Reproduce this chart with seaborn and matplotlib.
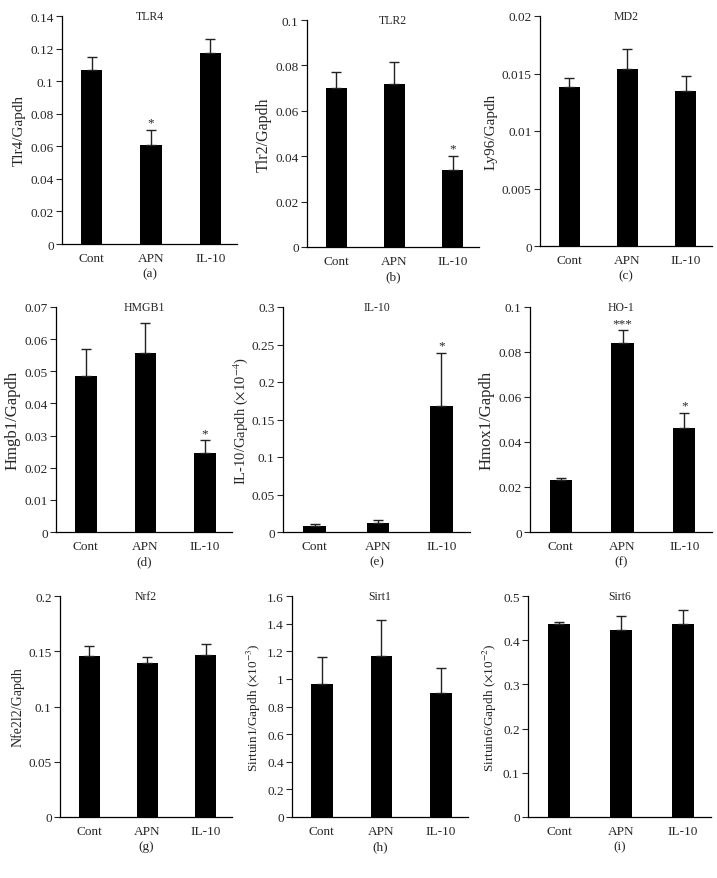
import numpy as np
import pandas as pd
import matplotlib
matplotlib.use("Agg")
import matplotlib.pyplot as plt
import seaborn as sns
from matplotlib.ticker import FuncFormatter

sns.set_style("ticks")
plt.rcParams['font.family'] = ['Liberation Serif', 'DejaVu Serif']
plt.rcParams['mathtext.fontset'] = 'stix'

groups = ['Cont', 'APN', 'IL-10']

# mean values and upper SEM
tlr4 = [0.107, 0.061, 0.117]
tlr4_err = [0.008, 0.009, 0.009]
tlr2 = [0.070, 0.0717, 0.034]
tlr2_err = [0.0073, 0.0098, 0.006]
md2 = [0.01385, 0.01536, 0.0135]
md2_err = [0.0008, 0.0018, 0.0013]
hmgb1 = [0.0484, 0.0557, 0.0247]
hmgb1_err = [0.0084, 0.0094, 0.0038]
il10 = [0.008, 0.012, 0.168]
il10_err = [0.0022, 0.004, 0.071]
ho1 = [0.023, 0.084, 0.0462]
ho1_err = [0.0011, 0.0056, 0.0068]
nrf2 = [0.1455, 0.139, 0.147]
nrf2_err = [0.009, 0.0057, 0.010]
sirt1 = [0.966, 1.167, 0.896]
sirt1_err = [0.19, 0.26, 0.18]
sirt6 = [0.4357, 0.4221, 0.4357]
sirt6_err = [0.0045, 0.032, 0.032]

titles = ['TLR4', 'TLR2', 'MD2', 'HMGB1', 'IL-10', 'HO-1', 'Nrf2', 'Sirt1', 'Sirt6']
ylabels = ['Tlr4/Gapdh', 'Tlr2/Gapdh', 'Ly96/Gapdh', 'Hmgb1/Gapdh',
           r'IL-10/Gapdh ($\times$10$^{-4}$)', 'Hmox1/Gapdh', 'Nfe2l2/Gapdh',
           r'Sirtuin1/Gapdh ($\times$10$^{-3}$)', r'Sirtuin6/Gapdh ($\times$10$^{-2}$)']
panel_tags = ['(a)', '(b)', '(c)', '(d)', '(e)', '(f)', '(g)', '(h)', '(i)']
ymax = [0.14, 0.1, 0.02, 0.07, 0.3, 0.1, 0.2, 1.6, 0.5]
ystep = [0.02, 0.02, 0.005, 0.01, 0.05, 0.02, 0.05, 0.2, 0.1]
stars = [['', '*', ''], ['', '', '*'], ['', '', ''],
         ['', '', '*'], ['', '', '*'], ['', '***', '*'],
         ['', '', ''], ['', '', ''], ['', '', '']]

means = [tlr4, tlr2, md2, hmgb1, il10, ho1, nrf2, sirt1, sirt6]
errs = [tlr4_err, tlr2_err, md2_err, hmgb1_err, il10_err, ho1_err, nrf2_err, sirt1_err, sirt6_err]

W, H = 717, 879
# axes boxes in pixels: left, right, top, bottom
boxes = [(62, 237, 17, 245), (307, 479, 21, 248), (540, 712, 17, 247),
         (56, 232, 308, 533), (283, 470, 308, 533), (530, 712, 308, 533),
         (60, 232, 597, 818), (292, 468, 597, 818), (528, 711, 597, 818)]
# the panels were put together from different sources, y labels differ in size
ylab_size = [11, 11.5, 11, 12, 10.5, 12, 10, 9.5, 9.5]
ylab_pad = [3, 3, 3, 3, 1, 3, 3, 3, 3]

fig = plt.figure(figsize=(W / 100, H / 100), dpi=100)
fmt = FuncFormatter(lambda v, p: f"{v:g}")

for i in range(9):
    l, r, t, b = boxes[i]
    ax = fig.add_axes([l / W, 1 - b / H, (r - l) / W, (b - t) / H])
    df = pd.DataFrame({'group': groups, 'value': means[i]})
    sns.barplot(data=df, x='group', y='value', color='black', width=0.36,
                saturation=1, linewidth=0, ax=ax)
    ax.errorbar(np.arange(3), means[i], yerr=[[0, 0, 0], errs[i]], fmt='none',
                ecolor='#222222', elinewidth=1, capsize=3.6, capthick=1)
    for j in range(3):
        if stars[i][j]:
            ax.annotate(stars[i][j], (j, means[i][j] + errs[i][j]),
                        xytext=(0, 1), textcoords='offset points',
                        ha='center', va='bottom', fontsize=9.5)
    ax.set_xlim(-0.5, 2.45)
    ax.set_ylim(0, ymax[i])
    ax.set_yticks(np.arange(0, ymax[i] + ystep[i] / 2, ystep[i]))
    ax.yaxis.set_major_formatter(fmt)
    ax.tick_params(axis='y', direction='out', length=4, width=0.8, labelsize=9.5, pad=2)
    ax.tick_params(axis='x', length=0, labelsize=9.5, pad=6)
    for s in ['top', 'right']:
        ax.spines[s].set_visible(False)
    for s in ['left', 'bottom']:
        ax.spines[s].set_linewidth(0.9)
        ax.spines[s].set_color('black')
    ax.set_ylabel(ylabels[i], fontsize=ylab_size[i], labelpad=ylab_pad[i])
    ax.set_xlabel(panel_tags[i], fontsize=9.5, labelpad=2)
    ax.text(0.5, 1.0, titles[i], transform=ax.transAxes, ha='center', va='center',
            fontsize=8.5)

fig.savefig('out.png', dpi=100)
